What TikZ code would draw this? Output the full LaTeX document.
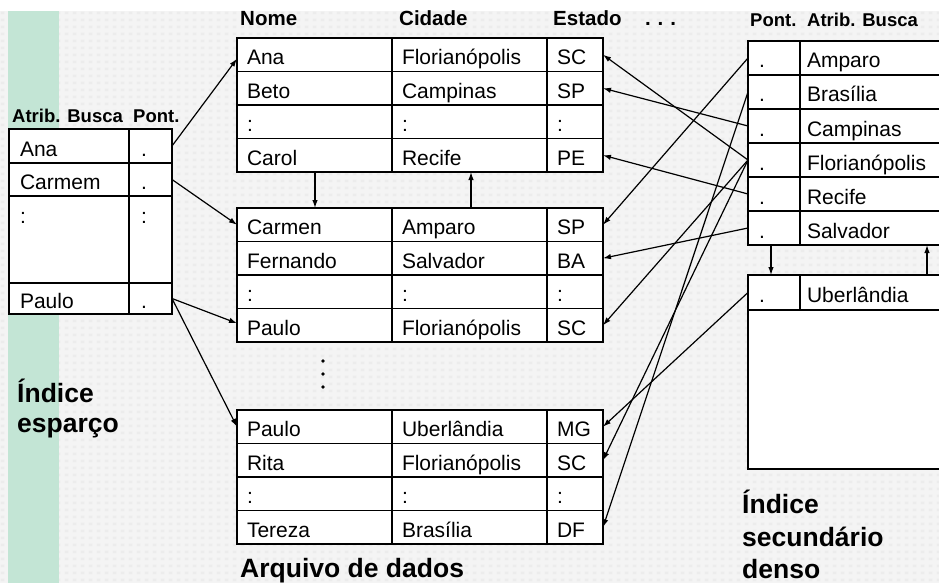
\documentclass[tikz,border=0pt]{standalone}
\usepackage{fontspec}
\setmainfont{Liberation Sans}
\usetikzlibrary{arrows.meta,calc,patterns}
\definecolor{mint}{RGB}{195,229,213}
\definecolor{bggray}{RGB}{244,244,244}
\definecolor{dotgray}{RGB}{236,236,236}
\pgfdeclarepatternformonly{bgdots}{\pgfpoint{0pt}{0pt}}{\pgfpoint{8pt}{7pt}}{\pgfpoint{8pt}{7pt}}{%
  \pgfpathrectangle{\pgfpoint{2pt}{2pt}}{\pgfpoint{4pt}{3pt}}\pgfusepath{fill}}
\tikzset{
  cell/.style={draw, line width=1.6pt, fill=white, anchor=north west, outer sep=0pt,
    inner ysep=0pt, inner xsep=10pt, text height=20pt, text depth=0pt, align=left,
    font=\fontsize{21}{25}\selectfont},
  rowh/.style={minimum height=33.5pt},
  rrow/.style={minimum height=34pt},
  hdr/.style={anchor=base west, inner sep=0pt, font=\bfseries\fontsize{18.5}{22}\selectfont},
  dhdr/.style={anchor=base west, inner sep=0pt, font=\bfseries\fontsize{20.5}{24}\selectfont},
  title/.style={anchor=base west, inner sep=0pt, font=\bfseries\fontsize{26.5}{31}\selectfont},
  arr/.style={line width=1.2pt, -{Latex[length=8pt,width=5.5pt]}},
  vdot/.style={circle, fill=black, inner sep=0pt, minimum size=3.6pt}
}
\newcommand\datarow[5]{%
  \node[cell,rowh,text width=135pt] (#1n) at (237,#2) {#3};
  \node[cell,rowh,text width=135pt] (#1c) at (392,#2) {#4};
  \node[cell,rowh,text width=36pt] (#1e) at (547,#2) {#5};}
\begin{document}
\begin{tikzpicture}[x=1pt,y=-1pt]
\useasboundingbox (0,0) rectangle (939,583);
\clip (0,0) rectangle (939,583);
\fill[white] (0,0) rectangle (939,583);
\fill[bggray] (0,11) rectangle (939,583);
\fill[pattern=bgdots, pattern color=dotgray] (0,11) rectangle (939,583);
\fill[mint] (8,11) rectangle (59,583);

% ---- left sparse index ----
\node[hdr] (hatr) at (12,122) {Atrib. Busca};
\node[hdr] (hpont) at (133,122) {Pont.};
\node[cell, text width=98pt, inner xsep=11pt, minimum height=34pt] (la) at (9,129) {Ana};
\node[cell, text width=19pt, inner xsep=12pt, minimum height=34pt] (lap) at (129,129) {.};
\node[cell, text width=98pt, inner xsep=11pt, minimum height=33pt] (lc) at (9,163) {Carmem};
\node[cell, text width=19pt, inner xsep=12pt, minimum height=33pt] (lcp) at (129,163) {.};
\node[cell, text width=98pt, inner xsep=11pt, minimum height=87pt, text depth=53pt] (ld) at (9,196) {:};
\node[cell, text width=19pt, inner xsep=12pt, minimum height=87pt, text depth=53pt] (ldp) at (129,196) {:};
\node[cell, text width=98pt, inner xsep=11pt, minimum height=31pt] (lp) at (9,283) {Paulo};
\node[cell, text width=19pt, inner xsep=12pt, minimum height=31pt] (lpp) at (129,283) {.};
\node[title] (t1a) at (17,402) {Índice};
\node[title] (t1b) at (17,432) {esparço};

% ---- data file ----
\node[dhdr] (hnome) at (240,26) {Nome};
\node[dhdr] (hcid) at (399,26) {Cidade};
\node[dhdr] (hest) at (553,26) {Estado};
\node[dhdr] (hdots) at (645,26) {.\,\,.\,\,.};
\datarow{b1r1}{38}{Ana}{Florianópolis}{SC}
\datarow{b1r2}{71.5}{Beto}{Campinas}{SP}
\datarow{b1r3}{105}{:}{:}{:}
\datarow{b1r4}{138.5}{Carol}{Recife}{PE}
\datarow{b2r1}{208}{Carmen}{Amparo}{SP}
\datarow{b2r2}{241.5}{Fernando}{Salvador}{BA}
\datarow{b2r3}{275}{:}{:}{:}
\datarow{b2r4}{308.5}{Paulo}{Florianópolis}{SC}
\datarow{b3r1}{410}{Paulo}{Uberlândia}{MG}
\datarow{b3r2}{443.5}{Rita}{Florianópolis}{SC}
\datarow{b3r3}{477}{:}{:}{:}
\datarow{b3r4}{510.5}{Tereza}{Brasília}{DF}
\node[vdot] (vd1) at (323,361) {};
\node[vdot] (vd2) at (323,374) {};
\node[vdot] (vd3) at (323,387) {};
\node[title] (t2) at (240,577) {Arquivo de dados};

% ---- right dense secondary index ----
\node[hdr] (hrpont) at (750,27) {Pont.};
\node[hdr] (hratr) at (807,27) {Atrib. Busca};
\node[cell,rrow,text width=30pt,inner xsep=11pt] (ri1p) at (748,41) {.};
\node[cell,rrow,text width=136pt,inner xsep=7pt] (ri1a) at (800,41) {Amparo};
\node[cell,rrow,text width=30pt,inner xsep=11pt] (ri2p) at (748,75) {.};
\node[cell,rrow,text width=136pt,inner xsep=7pt] (ri2a) at (800,75) {Brasília};
\node[cell,rrow,text width=30pt,inner xsep=11pt] (ri3p) at (748,109) {.};
\node[cell,rrow,text width=136pt,inner xsep=7pt] (ri3a) at (800,109) {Campinas};
\node[cell,rrow,text width=30pt,inner xsep=11pt] (ri4p) at (748,143) {.};
\node[cell,rrow,text width=136pt,inner xsep=7pt] (ri4a) at (800,143) {Florianópolis};
\node[cell,rrow,text width=30pt,inner xsep=11pt] (ri5p) at (748,177) {.};
\node[cell,rrow,text width=136pt,inner xsep=7pt] (ri5a) at (800,177) {Recife};
\node[cell,rrow,text width=30pt,inner xsep=11pt] (ri6p) at (748,211) {.};
\node[cell,rrow,text width=136pt,inner xsep=7pt] (ri6a) at (800,211) {Salvador};
\node[cell,minimum width=202pt,minimum height=159pt,inner sep=0pt,text height=0pt] (rbrest) at (748,310) {};
\node[cell,minimum height=35pt,text width=30pt,inner xsep=11pt] (rbp) at (748,275) {.};
\node[cell,minimum height=35pt,text width=136pt,inner xsep=7pt] (rba) at (800,275) {Uberlândia};
\node[title] (t3a) at (742,513) {Índice};
\node[title] (t3b) at (742,546) {secundário};
\node[title] (t3c) at (742,578) {denso};

% ---- connectors ----
\draw[arr] (lap.east) -- ([yshift=-4pt]b1r1n.west);
\draw[arr] (lcp.east) -- (b2r1n.west);
\draw[arr] (lpp.east) -- ([yshift=2pt]b2r4n.west);
\draw[arr] (lpp.east) -- (b3r1n.west);
\draw[arr] ([xshift=78pt]b1r4n.south west) -- ([xshift=78pt]b2r1n.north west);
\draw[arr] ([xshift=79pt]b2r1c.north west) -- ([xshift=79pt]b1r4c.south west);

\draw[arr] (ri1p.west) -- (b2r1e.east);
\draw[arr] (ri2p.west) -- (b3r4e.east);
\draw[arr] (ri3p.west) -- (b1r2e.east);
\draw[arr] (ri4p.west) -- (b1r1e.east);
\draw[arr] (ri4p.west) -- (b2r4e.east);
\draw[arr] (ri4p.west) -- (b3r2e.east);
\draw[arr] (ri5p.west) -- (b1r4e.east);
\draw[arr] (ri6p.west) -- (b2r2e.east);
\draw[arr] (rbp.west) -- (b3r1e.east);
\draw[arr] ([xshift=23pt]ri6p.south west) -- ([xshift=23pt]rbp.north west);
\draw[arr] ([xshift=127pt]rba.north west) -- ([xshift=127pt]ri6a.south west);
\end{tikzpicture}
\end{document}
